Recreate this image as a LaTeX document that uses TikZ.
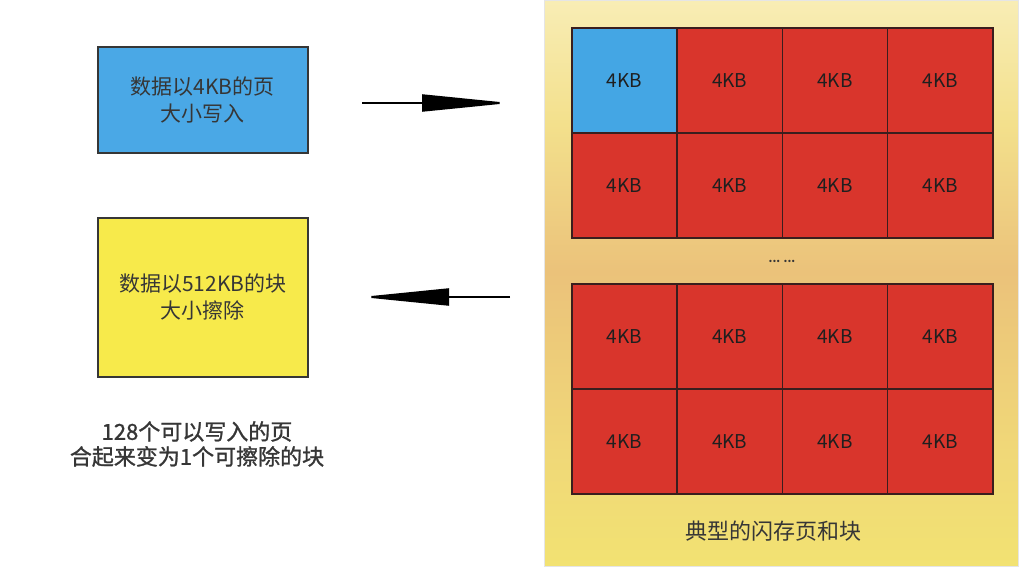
\documentclass[tikz,border=0pt]{standalone}
\usepackage{fontspec}
\setmainfont{Liberation Serif}
\newfontfamily\cjk{Noto Sans CJK SC}
\newfontfamily\cjkbold[FakeBold=1.2]{Noto Sans CJK SC}
\usetikzlibrary{arrows.meta}
\definecolor{boxblue}{HTML}{4AA8E6}
\definecolor{boxyellow}{HTML}{F7EA4B}
\definecolor{cellred}{HTML}{D9352C}
\definecolor{cellblue}{HTML}{44A6E4}
\definecolor{celledge}{HTML}{3A1E1E}
\definecolor{paneltop}{HTML}{F8EDB5}
\definecolor{panelup}{HTML}{F3E08C}
\definecolor{panelmid}{HTML}{EBC27A}
\definecolor{panellow}{HTML}{F0D878}
\definecolor{panelbot}{HTML}{F2E272}
\definecolor{txt}{HTML}{363636}
\pgfdeclareverticalshading{panelgrad}{100bp}{color(0bp)=(panelbot); color(25bp)=(panelbot);
  color(35bp)=(panellow); color(51bp)=(panelmid); color(64bp)=(panelup);
  color(75bp)=(paneltop); color(100bp)=(paneltop)}
\begin{document}
\begin{tikzpicture}[x=1pt,y=-1pt,
  infobox/.style={draw=txt, line width=1.5pt, minimum width=210pt, anchor=north west,
    inner sep=0pt, align=center, font=\cjk\fontsize{21}{27}\selectfont, text=txt},
  cell/.style={draw=celledge, line width=1.7pt, fill=cellred, minimum width=105.25pt,
    minimum height=105pt, inner sep=0pt, anchor=north west,
    font=\cjk\fontsize{19}{22}\selectfont, text=black!88},
  flow/.style={line width=2pt, -{Triangle[length=88pt,width=17pt]}},
  caption/.style={font=\cjk\fontsize{22}{26}\selectfont, text=txt, align=center}]
\useasboundingbox (0,0) rectangle (1022,568);
\fill[white] (0,0) rectangle (1022,568);
% panel
\shade[shading=panelgrad, draw=black!10, line width=0.5pt]
  (544,0) rectangle (1018,566);
% left boxes
\node[infobox, fill=boxblue, minimum height=106pt] (write) at (97,46) {数据以4KB的页\\大小写入};
\node[infobox, fill=boxyellow, minimum height=159pt] (erase) at (97,217) {数据以512KB的块\\大小擦除};
\node[caption, font=\cjkbold\fontsize{22}{25}\selectfont] (note) at (197,444) {128个可以写入的页\\合起来变为1个可擦除的块};
% arrows
\coordinate (w1) at (362,103);
\coordinate (w2) at (510,103);
\coordinate (e1) at (510,297);
\coordinate (e2) at (361,297);
\draw[flow] (w1) -- (w2);
\draw[flow] (e1) -- (e2);
% top block
\node[cell, fill=cellblue] (t00) at (571,27) {4KB};
\foreach \r/\c in {0/1,0/2,0/3,1/0,1/1,1/2,1/3}
  \node[cell] (t\r\c) at ({571+105.25*\c},{27+105*\r}) {4KB};
% dots
\node[font=\cjk\bfseries\fontsize{11}{12}\selectfont, text=txt] (dots) at (782,261) {... ...};
% bottom block
\foreach \r in {0,1}
  \foreach \c in {0,1,2,3}
    \node[cell] (b\r\c) at ({571+105.25*\c},{283+105*\r}) {4KB};
\node[caption] (pcap) at (773,531) {典型的闪存页和块};
\end{tikzpicture}
\end{document}
